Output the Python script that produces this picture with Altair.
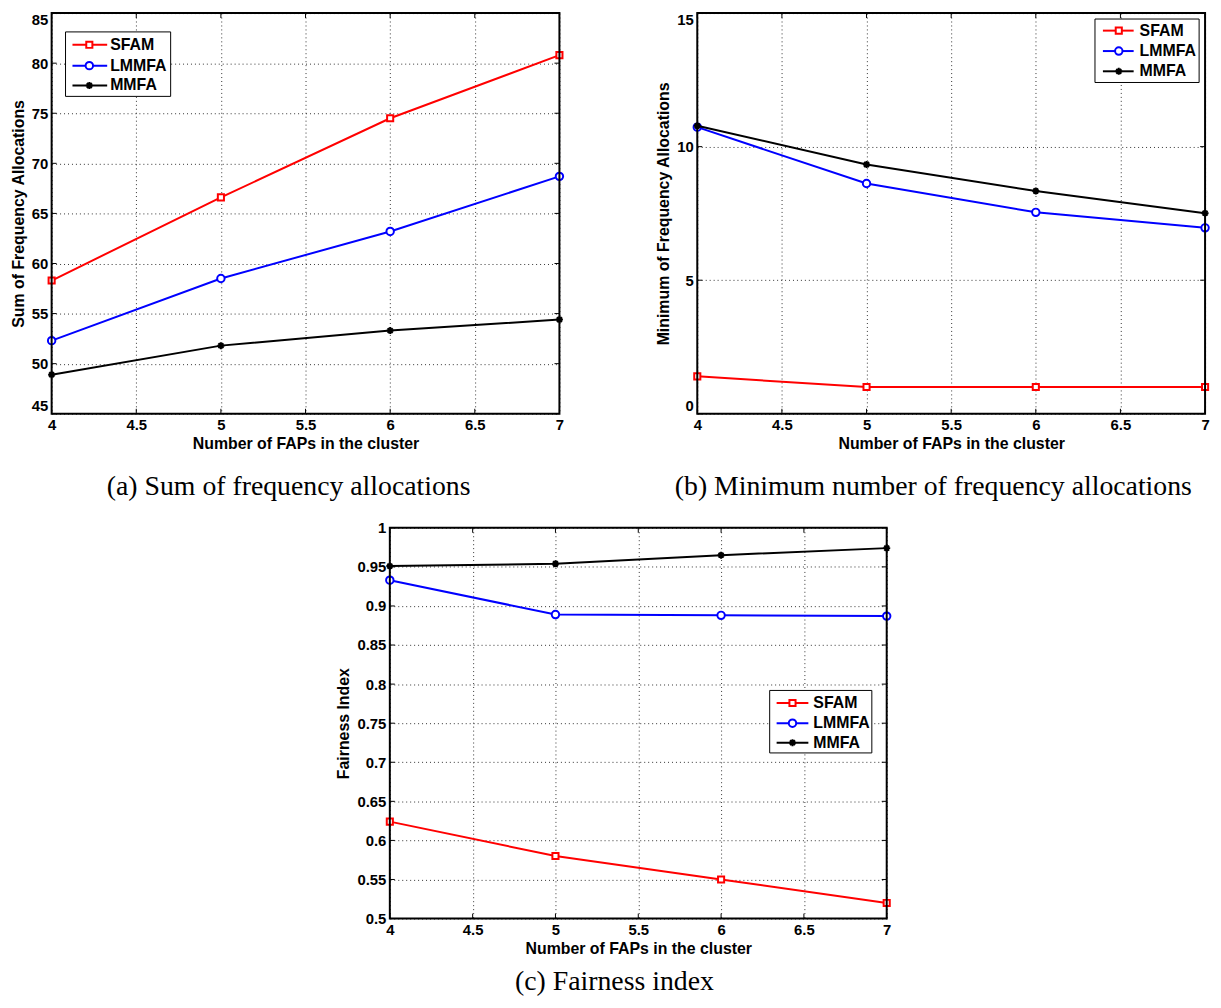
import altair as alt
import pandas as pd

series = ["SFAM", "LMMFA", "MMFA"]
colors = ["#ff0000", "#0000ff", "#000000"]
faps = [4, 5, 6, 7]

# (a) Sum of frequency allocations
sum_sfam = [58.3, 66.6, 74.5, 80.8]
sum_lmmfa = [52.3, 58.5, 63.2, 68.7]
sum_mmfa = [48.9, 51.8, 53.3, 54.4]

# (b) Minimum number of frequency allocations
min_sfam = [1.4, 1.0, 1.0, 1.0]
min_lmmfa = [10.73, 8.62, 7.54, 6.96]
min_mmfa = [10.78, 9.33, 8.34, 7.51]

# (c) Fairness index
fair_sfam = [0.624, 0.580, 0.550, 0.520]
fair_lmmfa = [0.933, 0.889, 0.888, 0.887]
fair_mmfa = [0.951, 0.954, 0.965, 0.974]

x_ticks = [4, 4.5, 5, 5.5, 6, 6.5, 7]
a_ticks = [45, 50, 55, 60, 65, 70, 75, 80, 85]
b_ticks = [0, 5, 10, 15]
c_ticks = [0.5, 0.55, 0.6, 0.65, 0.7, 0.75, 0.8, 0.85, 0.9, 0.95, 1.0]

ASTERISK = "M-1,0L1,0M0,-1L0,1M-0.7,-0.7L0.7,0.7M-0.7,0.7L0.7,-0.7"
shapes = ["square", "circle", ASTERISK]
sizes = [38, 56, 50]

SANS = "Liberation Sans"
SERIF = "Liberation Serif"
TICK = 5


def one():
    return pd.DataFrame({"k": [0]})


def panel(vals, yticks, ytitle, W, H, leg, caption, cap_dx, cap_off, flush):
    xs = alt.Scale(domain=[x_ticks[0], x_ticks[-1]], nice=False, zero=False)
    ys = alt.Scale(domain=[yticks[0], yticks[-1]], nice=False, zero=False)
    xaxis = alt.Axis(values=x_ticks, format="~g", title="Number of FAPs in the cluster", labelFlush=False)
    if flush:
        yaxis = alt.Axis(values=yticks, format="~g", title=ytitle, labelFlush=True, labelFlushOffset=0)
    else:
        yaxis = alt.Axis(values=yticks, format="~g", title=ytitle, labelFlush=False)

    layers = []
    for i, s in enumerate(series):
        df = pd.DataFrame({"x": faps, "y": vals[i]})
        enc = dict(x=alt.X("x:Q", scale=xs, axis=xaxis), y=alt.Y("y:Q", scale=ys, axis=yaxis))
        layers.append(alt.Chart(df).mark_line(strokeWidth=2, color=colors[i]).encode(**enc))
        layers.append(
            alt.Chart(df)
            .mark_point(shape=shapes[i], size=sizes[i], filled=True, fill="white",
                        stroke=colors[i], strokeWidth=2, opacity=1)
            .encode(**enc)
        )

    xt = pd.DataFrame({"t": x_ticks})
    yt = pd.DataFrame({"t": yticks})
    tx = alt.X("t:Q", scale=xs, axis=xaxis)
    ty = alt.Y("t:Q", scale=ys, axis=yaxis)
    layers.append(alt.Chart(xt).mark_rule(color="black", strokeWidth=1)
                  .encode(x=tx, y=alt.value(H), y2=alt.value(H - TICK)))
    layers.append(alt.Chart(xt).mark_rule(color="black", strokeWidth=1)
                  .encode(x=tx, y=alt.value(0), y2=alt.value(TICK)))
    layers.append(alt.Chart(yt).mark_rule(color="black", strokeWidth=1)
                  .encode(y=ty, x=alt.value(0), x2=alt.value(TICK)))
    layers.append(alt.Chart(yt).mark_rule(color="black", strokeWidth=1)
                  .encode(y=ty, x=alt.value(W - TICK), x2=alt.value(W)))

    # frame
    layers.append(alt.Chart(one()).mark_rect(fillOpacity=0, stroke="black", strokeWidth=2)
                  .encode(x=alt.value(0), x2=alt.value(W), y=alt.value(0), y2=alt.value(H)))

    # legend
    bx0, bx1, by0, by1, lx0, lx1, mx, tx0, rows = leg
    layers.append(alt.Chart(one()).mark_rect(fill="white", stroke="black", strokeWidth=1)
                  .encode(x=alt.value(bx0), x2=alt.value(bx1), y=alt.value(by0), y2=alt.value(by1)))
    for i, s in enumerate(series):
        layers.append(alt.Chart(one()).mark_rule(color=colors[i], strokeWidth=2)
                      .encode(x=alt.value(lx0), x2=alt.value(lx1), y=alt.value(rows[i])))
        layers.append(alt.Chart(one()).mark_point(shape=shapes[i], size=sizes[i], filled=True,
                                                  fill="white", stroke=colors[i], strokeWidth=2, opacity=1)
                      .encode(x=alt.value(mx), y=alt.value(rows[i])))
        layers.append(alt.Chart(one()).mark_text(align="left", baseline="middle", font=SANS,
                                                 fontWeight="bold", fontSize=16, color="black")
                      .encode(x=alt.value(tx0), y=alt.value(rows[i]), text=alt.value(s)))

    return alt.layer(*layers).properties(
        width=W, height=H,
        title=alt.TitleParams(text=caption, orient="bottom", anchor="middle", font=SERIF,
                              fontSize=28, fontWeight="normal", color="black",
                              offset=cap_off, dx=cap_dx),
    )


pa = panel([sum_sfam, sum_lmmfa, sum_mmfa], a_ticks, "Sum of Frequency Allocations", 512, 404,
           (14, 120, 19, 84, 21, 56, 38, 59, [32, 53, 73]),
           "(a) Sum of frequency allocations", -17, 22, True)
pb = panel([min_sfam, min_lmmfa, min_mmfa], b_ticks, "Minimum of Frequency Allocations", 512, 404,
           (401, 506, 6, 70, 409, 440, 425, 446, [17.7, 38.3, 58.7]),
           "(b) Minimum number of frequency allocations", -18, 22, True)
pc = panel([fair_sfam, fair_lmmfa, fair_mmfa], c_ticks, "Fairness Index", 501, 394,
           (383, 486, 164, 227, 390, 422, 406, 427, [176.7, 197, 216.7]),
           "(c) Fairness index", -24, 12, False)

spacer = (alt.Chart(one()).mark_point(opacity=0)
          .encode(x=alt.value(20), y=alt.value(20))
          .properties(width=286, height=394))

top = alt.hconcat(pa, pb, spacing=89)
bottom = alt.hconcat(spacer, pc, spacing=0)

chart = (
    alt.vconcat(top, bottom, spacing=20)
    .properties(padding={"top": 0, "left": 2, "bottom": 0, "right": 0}, background="white")
    .configure_view(stroke=None)
    .configure_axis(
        labelFont=SANS, labelFontSize=15, labelFontWeight="bold", labelColor="black",
        titleFont=SANS, titleFontSize=16, titleFontWeight="bold", titleColor="black",
        grid=True, gridColor="#333333", gridDash=[1, 3], gridWidth=1, gridOpacity=1,
        domain=False, ticks=False,
    )
    .configure_axisX(labelPadding=4, titlePadding=3)
    .configure_axisY(labelPadding=4, titlePadding=5, labelOffset=0)
)

chart.save("out.html", embed_options={"renderer": "svg", "actions": False})
